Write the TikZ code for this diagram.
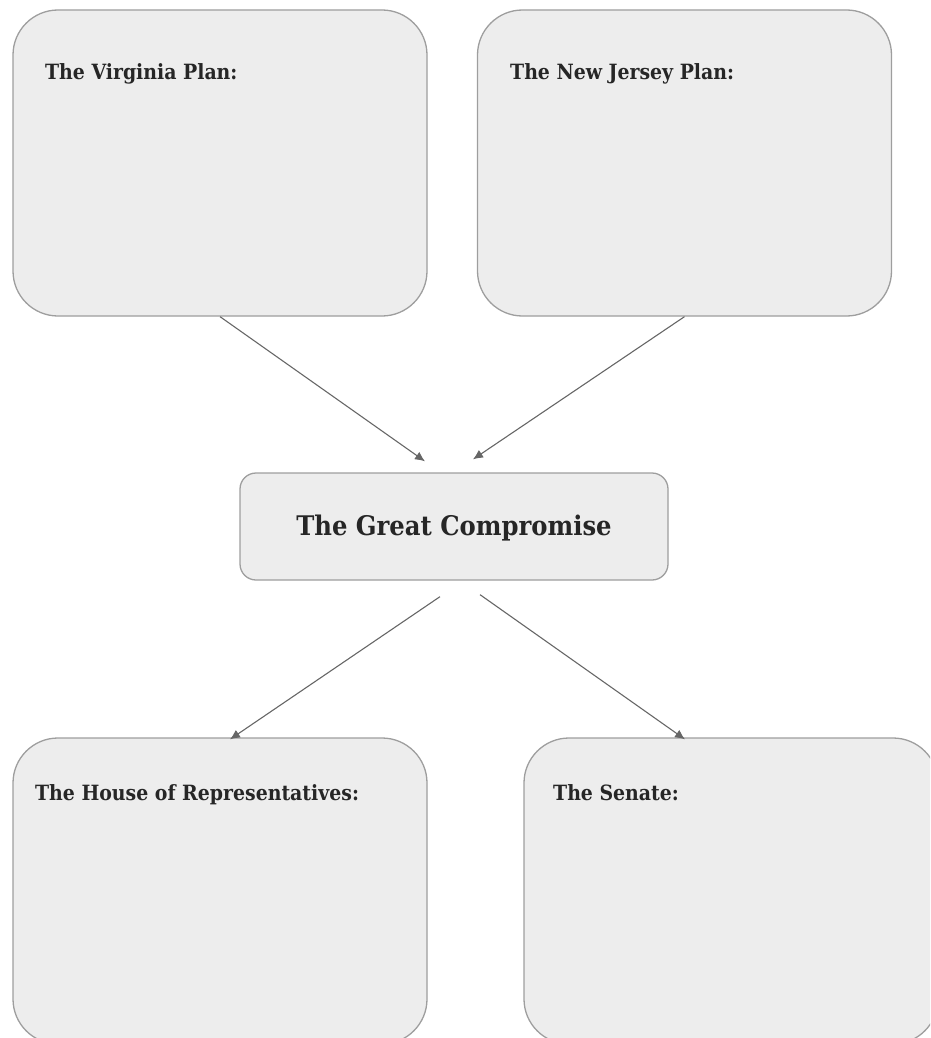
\documentclass[tikz,border=0pt]{standalone}
\usepackage{fontspec}
\setmainfont{DejaVu Serif Condensed}
\usetikzlibrary{arrows.meta}
\tikzset{
  planbox/.style={draw=black!38, line width=1.3pt, fill=black!7, rounded corners=45pt, minimum width=414pt, minimum height=306pt, inner sep=0pt},
  mainbox/.style={draw=black!38, line width=1.3pt, fill=black!7, rounded corners=16pt, minimum width=428pt, minimum height=107pt, inner sep=0pt},
  boxtitle/.style={anchor=base west, inner sep=0pt, font=\fontsize{21}{24}\selectfont\bfseries, text=black!85},
  link/.style={->, draw=black!60, line width=1.1pt}
}
\begin{document}
\begin{tikzpicture}[x=1pt, y=-1pt, >={Latex[length=10pt, width=9pt]}]
	\useasboundingbox (0,0) rectangle (930,1038);
	\clip (0,0) rectangle (930,1038);
	\node[planbox] (virginia) at (220,163) {};
	\node[planbox] (jersey) at (684.5,163) {};
	\node[mainbox] (compromise) at (454,526.5) {};
	\node[planbox] (house) at (220,891) {};
	\node[planbox] (senate) at (731,891) {};
	\node[boxtitle] (virginiatext) at (45,80) {The Virginia Plan:};
	\node[boxtitle] (jerseytext) at (510,80) {The New Jersey Plan:};
	\node[boxtitle] (housetext) at (35,800) {The House of Representatives:};
	\node[boxtitle] (senatetext) at (553,800) {The Senate:};
	\node[anchor=center, inner sep=0pt, font=\fontsize{27}{31}\selectfont\bfseries, text=black!85] (compromisetext) at (454,528) {The Great Compromise};
	\draw[link] (virginia.south) -- ([xshift=-29pt, yshift=11pt]compromise.north);
	\draw[link] (jersey.south) -- ([xshift=19pt, yshift=13pt]compromise.north);
	\draw[link] ([xshift=-14pt, yshift=-16pt]compromise.south) -- ([xshift=10pt, yshift=-2pt]house.north);
	\draw[link] ([xshift=26pt, yshift=-14pt]compromise.south) -- ([xshift=-46pt, yshift=-2pt]senate.north);
\end{tikzpicture}
\end{document}
